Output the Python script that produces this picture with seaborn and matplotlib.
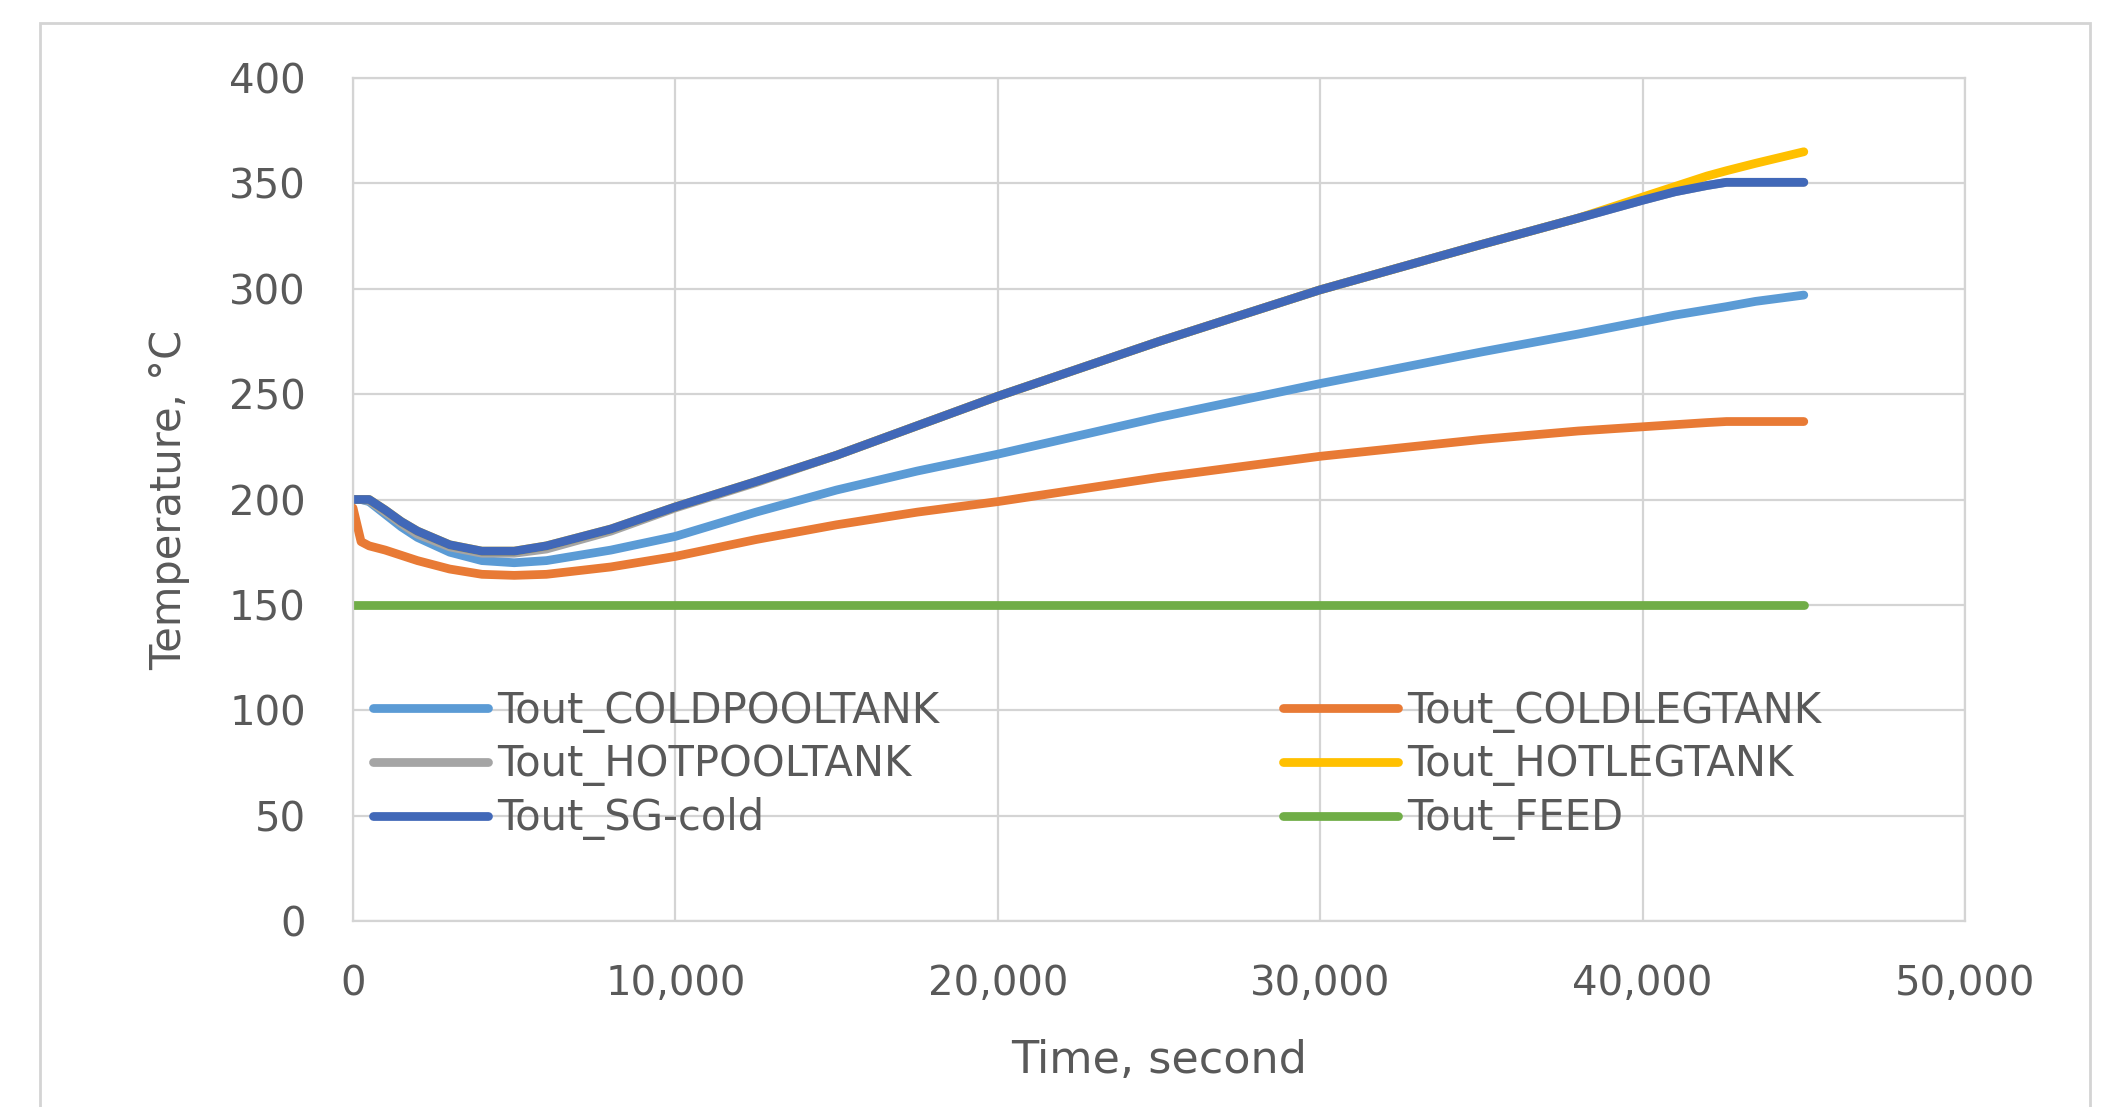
import numpy as np
import pandas as pd
import seaborn as sns
import matplotlib
matplotlib.use("Agg")
import matplotlib.pyplot as plt
from matplotlib.ticker import FuncFormatter
from matplotlib.lines import Line2D
from matplotlib.patches import Rectangle

# ---- data ----
time_s = [0, 250, 500, 1000, 1500, 2000, 3000, 4000, 5000, 6000, 8000, 10000,
          12500, 15000, 17500, 20000, 25000, 30000, 35000, 38000, 40000, 41000,
          42000, 42600, 43500, 45000]
t_coldpool = [200, 200, 199, 193, 187, 182, 175, 171, 170, 171, 176, 182.5,
              194, 204.5, 213.5, 221.5, 239, 255, 270, 278.5, 284.5, 287.5,
              290, 291.5, 294, 297]
t_coldleg = [196, 180, 178, 176, 173.5, 171, 167, 164.5, 164, 164.5, 168, 173,
             181, 188, 194, 199, 210.5, 220.5, 228.5, 232.5, 234.5, 235.5,
             236.5, 237, 237, 237]
t_hotpool = [200, 200, 199.5, 194, 188.5, 183.5, 177.5, 174.5, 174.5, 176.5, 185, 196,
             208, 221, 235, 249, 275, 299.5, 321, 333.5, 342, 346,
             349, 350.5, 350.5, 350.5]
t_hotleg = [200, 200, 200, 195, 189.5, 185, 178.5, 175.5, 175.5, 178, 186, 196.5,
            208.5, 221, 235, 249, 275, 299.5, 321, 333.5, 343.5, 348.5,
            353.5, 356, 359.5, 365]
t_sgcold = [200, 200, 200, 195, 189.5, 185, 178.5, 175.5, 175.5, 178, 186, 196.5,
            208.5, 221, 235, 249, 275, 299.5, 321, 333.5, 342, 346,
            349, 350.5, 350.5, 350.5]
t_feed = [150] * len(time_s)

series_names = ["Tout_COLDPOOLTANK", "Tout_COLDLEGTANK", "Tout_HOTPOOLTANK",
                "Tout_HOTLEGTANK", "Tout_SG-cold", "Tout_FEED"]
series_values = [t_coldpool, t_coldleg, t_hotpool, t_hotleg, t_sgcold, t_feed]
series_colors = ["#5B9BD5", "#E87A35", "#A5A5A5", "#FFC000", "#4168B8", "#70AD47"]

x_ticks = [0, 10000, 20000, 30000, 40000, 50000]
y_ticks = [0, 50, 100, 150, 200, 250, 300, 350, 400]

# ---- long-form table ----
df = pd.DataFrame({
    "Time": np.tile(time_s, len(series_names)),
    "Temp": np.concatenate([np.asarray(v, float) for v in series_values]),
    "Series": np.repeat(series_names, len(time_s)),
})

sns.set_theme(style="white")
plt.rcParams["font.family"] = ["DejaVu Sans"]

W, H = 2106, 1107
fig = plt.figure(figsize=(W / 100, H / 100), dpi=100)
fig.patch.set_facecolor("white")

left, right, top, bottom = 353, 1965, 78, 921
ax = fig.add_axes([left / W, 1 - bottom / H, (right - left) / W, (bottom - top) / H])

text_col = "#595959"
grid_col = "#d4d4d4"
lw = 6.3

handles = {}
for name, col in zip(series_names, series_colors):
    sub = df[df["Series"] == name]
    sns.lineplot(data=sub, x="Time", y="Temp", ax=ax, color=col, linewidth=lw,
                 legend=False, solid_capstyle="round", solid_joinstyle="round")
    handles[name] = Line2D([0], [0], color=col, linewidth=lw)

ax.set_xlim(0, 50000)
ax.set_ylim(0, 400)
ax.set_xticks(x_ticks)
ax.set_yticks(y_ticks)
ax.xaxis.set_major_formatter(FuncFormatter(lambda v, p: f"{int(v):,}"))
ax.grid(True, color=grid_col, linewidth=1.6)
ax.set_axisbelow(True)
for s in ax.spines.values():
    s.set_color(grid_col)
    s.set_linewidth(1.6)
ax.tick_params(axis="both", length=0, labelsize=29, colors=text_col)
ax.tick_params(axis="y", pad=34)
ax.tick_params(axis="x", pad=31)

ax.set_xlabel("Time, second", fontsize=32, color=text_col, labelpad=25)
ax.set_ylabel("Temperature, \u00b0C", fontsize=30, color=text_col, labelpad=28)

leg_kw = dict(frameon=False, fontsize=30, handlelength=2.75, handletextpad=0.22,
              labelspacing=0.26, borderpad=0, borderaxespad=0, loc="center left",
              labelcolor=text_col)
col1 = ["Tout_COLDPOOLTANK", "Tout_HOTPOOLTANK", "Tout_SG-cold"]
col2 = ["Tout_COLDLEGTANK", "Tout_HOTLEGTANK", "Tout_FEED"]
y_mid = (bottom - 765) / (bottom - top)
leg1 = ax.legend([handles[n] for n in col1], col1,
                 bbox_to_anchor=((373 - left) / (right - left), y_mid), **leg_kw)
ax.add_artist(leg1)
leg2 = ax.legend([handles[n] for n in col2], col2,
                 bbox_to_anchor=((1283 - left) / (right - left), y_mid), **leg_kw)

# chart-area border
fig.patches.append(Rectangle((40 / W, -0.05), (2090 - 40) / W, (H - 23) / H + 0.05,
                             transform=fig.transFigure, fill=False,
                             edgecolor=grid_col, linewidth=2))

fig.savefig("out.png", dpi=100)
